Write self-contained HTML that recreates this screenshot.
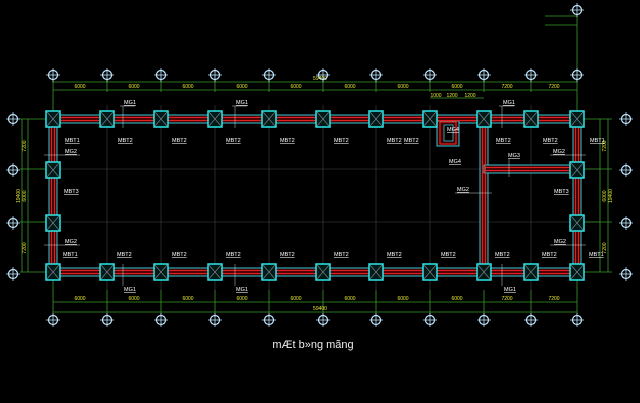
<!DOCTYPE html>
<html><head><meta charset="utf-8"><style>
html,body{margin:0;padding:0;background:#000;width:640px;height:403px;overflow:hidden}
svg{display:block}
text{font-family:"Liberation Sans",sans-serif}
</style></head><body>
<svg width="640" height="403" viewBox="0 0 640 403" xmlns="http://www.w3.org/2000/svg">
<defs>
<g id="bub"><circle r="4.5" fill="none" stroke="#bfe6ff" stroke-width="1.2"/><line x1="-7" y1="0" x2="7" y2="0" stroke="#bfe6ff" stroke-width="0.8"/><line x1="0" y1="-7" x2="0" y2="7" stroke="#bfe6ff" stroke-width="0.8"/></g>
<g id="col"><rect x="-7" y="-8" width="14" height="16" fill="#001a1a" stroke="#2ee8e8" stroke-width="1.5"/><line x1="-6" y1="-7" x2="6" y2="7" stroke="#888" stroke-width="0.6"/><line x1="6" y1="-7" x2="-6" y2="7" stroke="#888" stroke-width="0.6"/></g>
</defs>
<!-- grid lines -->
<g stroke="#444" stroke-width="0.6">
<line x1="40" y1="169" x2="600" y2="169"/><line x1="40" y1="222" x2="600" y2="222"/>
<line x1="107" y1="105" x2="107" y2="290"/><line x1="161" y1="105" x2="161" y2="290"/><line x1="215" y1="105" x2="215" y2="290"/><line x1="269" y1="105" x2="269" y2="290"/><line x1="323" y1="105" x2="323" y2="290"/><line x1="376" y1="105" x2="376" y2="290"/><line x1="430" y1="105" x2="430" y2="290"/><line x1="531" y1="105" x2="531" y2="290"/>
</g>
<!-- dimension lines -->
<g stroke="#3a9a2a" stroke-width="0.8" fill="none">
<line x1="53" y1="82" x2="577" y2="82"/><line x1="53" y1="90" x2="577" y2="90"/>
<line x1="430" y1="98" x2="484" y2="98"/>
<line x1="53" y1="302" x2="577" y2="302"/><line x1="53" y1="312" x2="577" y2="312"/>
<line x1="22" y1="119" x2="22" y2="272"/><line x1="28" y1="119" x2="28" y2="272"/>
<line x1="600" y1="119" x2="600" y2="272"/><line x1="608" y1="119" x2="608" y2="272"/>
<line x1="20" y1="119" x2="50" y2="119"/><line x1="20" y1="272" x2="50" y2="272"/><line x1="20" y1="169" x2="48" y2="169"/><line x1="20" y1="222" x2="48" y2="222"/>
<line x1="582" y1="119" x2="612" y2="119"/><line x1="582" y1="272" x2="612" y2="272"/><line x1="582" y1="169" x2="612" y2="169"/><line x1="582" y1="222" x2="612" y2="222"/>
<line x1="577" y1="14" x2="577" y2="82"/><line x1="545" y1="16" x2="577" y2="16"/><line x1="545" y1="25" x2="577" y2="25"/>
<g>
<line x1="53" y1="80" x2="53" y2="112"/><line x1="107" y1="80" x2="107" y2="92"/><line x1="161" y1="80" x2="161" y2="92"/><line x1="215" y1="80" x2="215" y2="92"/><line x1="269" y1="80" x2="269" y2="92"/><line x1="323" y1="80" x2="323" y2="92"/><line x1="376" y1="80" x2="376" y2="92"/><line x1="430" y1="80" x2="430" y2="92"/><line x1="484" y1="80" x2="484" y2="92"/><line x1="531" y1="80" x2="531" y2="92"/><line x1="577" y1="80" x2="577" y2="112"/>
<line x1="53" y1="280" x2="53" y2="314"/><line x1="107" y1="290" x2="107" y2="314"/><line x1="161" y1="290" x2="161" y2="314"/><line x1="215" y1="290" x2="215" y2="314"/><line x1="269" y1="290" x2="269" y2="314"/><line x1="323" y1="290" x2="323" y2="314"/><line x1="376" y1="290" x2="376" y2="314"/><line x1="430" y1="290" x2="430" y2="314"/><line x1="484" y1="290" x2="484" y2="314"/><line x1="531" y1="290" x2="531" y2="314"/><line x1="577" y1="280" x2="577" y2="314"/>
</g>
</g>
<!-- dim texts -->
<g fill="#e8e830" font-size="5" text-anchor="middle">
<text x="80" y="88">6000</text><text x="134" y="88">6000</text><text x="188" y="88">6000</text><text x="242" y="88">6000</text><text x="296" y="88">6000</text><text x="350" y="88">6000</text><text x="403" y="88">6000</text><text x="457" y="88">6000</text><text x="507" y="88">7200</text><text x="554" y="88">7200</text>
<text x="320" y="80">59400</text>
<text x="436" y="97">1000</text><text x="452" y="97">1200</text><text x="470" y="97">1200</text>
<text x="80" y="300">6000</text><text x="134" y="300">6000</text><text x="188" y="300">6000</text><text x="242" y="300">6000</text><text x="296" y="300">6000</text><text x="350" y="300">6000</text><text x="403" y="300">6000</text><text x="457" y="300">6000</text><text x="507" y="300">7200</text><text x="554" y="300">7200</text>
<text x="320" y="310">59400</text>
<text transform="translate(26,146) rotate(-90)">7200</text><text transform="translate(26,196) rotate(-90)">6000</text><text transform="translate(26,248) rotate(-90)">7200</text><text transform="translate(20,196) rotate(-90)">19400</text>
<text transform="translate(606,146) rotate(-90)">7200</text><text transform="translate(606,196) rotate(-90)">6000</text><text transform="translate(606,248) rotate(-90)">7200</text><text transform="translate(612,196) rotate(-90)">19400</text>
</g>
<!-- beams -->
<g>
<g fill="#3a0000" stroke="#2ec8d8" stroke-width="1">
<rect x="49" y="115" width="532" height="8"/>
<rect x="49" y="268" width="532" height="8"/>
<rect x="49" y="115" width="8" height="161"/>
<rect x="573" y="115" width="8" height="161"/>
<rect x="480" y="115" width="8" height="161"/>
<rect x="484" y="165" width="97" height="8"/>
<rect x="437" y="121" width="22" height="25"/>
</g>
<g stroke="#e02020" stroke-width="1.2" fill="none">
<line x1="50" y1="117.5" x2="580" y2="117.5"/><line x1="50" y1="120.5" x2="580" y2="120.5"/>
<line x1="50" y1="270.5" x2="580" y2="270.5"/><line x1="50" y1="273.5" x2="580" y2="273.5"/>
<line x1="51.5" y1="116" x2="51.5" y2="275"/><line x1="54.5" y1="116" x2="54.5" y2="275"/>
<line x1="575.5" y1="116" x2="575.5" y2="275"/><line x1="578.5" y1="116" x2="578.5" y2="275"/>
<line x1="482.5" y1="116" x2="482.5" y2="275"/><line x1="485.5" y1="116" x2="485.5" y2="275"/>
<line x1="486" y1="167.5" x2="580" y2="167.5"/><line x1="486" y1="170.5" x2="580" y2="170.5"/>
<rect x="440" y="122" width="16" height="22"/>
</g>
<rect x="444" y="125" width="9" height="16" fill="#000" stroke="#2ec8d8" stroke-width="0.8"/>
</g>
<!-- columns -->
<g>
<use href="#col" x="53" y="119"/><use href="#col" x="107" y="119"/><use href="#col" x="161" y="119"/><use href="#col" x="215" y="119"/><use href="#col" x="269" y="119"/><use href="#col" x="323" y="119"/><use href="#col" x="376" y="119"/><use href="#col" x="430" y="119"/><use href="#col" x="484" y="119"/><use href="#col" x="531" y="119"/><use href="#col" x="577" y="119"/>
<use href="#col" x="53" y="272"/><use href="#col" x="107" y="272"/><use href="#col" x="161" y="272"/><use href="#col" x="215" y="272"/><use href="#col" x="269" y="272"/><use href="#col" x="323" y="272"/><use href="#col" x="376" y="272"/><use href="#col" x="430" y="272"/><use href="#col" x="484" y="272"/><use href="#col" x="531" y="272"/><use href="#col" x="577" y="272"/>
<use href="#col" x="53" y="170"/><use href="#col" x="53" y="223"/><use href="#col" x="577" y="170"/><use href="#col" x="577" y="223"/>
</g>
<!-- labels -->
<g fill="#fff" font-size="5.5" text-decoration="underline">
<text x="65" y="142">MBT1</text><text x="118" y="142">MBT2</text><text x="172" y="142">MBT2</text><text x="226" y="142">MBT2</text><text x="280" y="142">MBT2</text><text x="334" y="142">MBT2</text><text x="387" y="142">MBT2</text><text x="404" y="142">MBT2</text><text x="496" y="142">MBT2</text><text x="543" y="142">MBT2</text><text x="590" y="142">MBT1</text>
<text x="63" y="256">MBT1</text><text x="117" y="256">MBT2</text><text x="172" y="256">MBT2</text><text x="226" y="256">MBT2</text><text x="280" y="256">MBT2</text><text x="334" y="256">MBT2</text><text x="387" y="256">MBT2</text><text x="441" y="256">MBT2</text><text x="495" y="256">MBT2</text><text x="542" y="256">MBT2</text><text x="589" y="256">MBT1</text>
<text x="64" y="193">MBT3</text><text x="554" y="193">MBT3</text>
<text x="124" y="104">MG1</text><text x="236" y="104">MG1</text><text x="503" y="104">MG1</text>
<text x="124" y="291">MG1</text><text x="236" y="291">MG1</text><text x="504" y="291">MG1</text>
<text x="65" y="153">MG2</text><text x="65" y="243">MG2</text><text x="553" y="153">MG2</text><text x="554" y="243">MG2</text>
<text x="457" y="191">MG2</text><text x="508" y="157">MG3</text><text x="447" y="131">MG4</text><text x="449" y="163">MG4</text>
</g>
<g stroke="#ccc" stroke-width="0.5">
<line x1="120" y1="106" x2="135" y2="106"/><line x1="123" y1="106" x2="123" y2="128"/>
<line x1="232" y1="106" x2="247" y2="106"/><line x1="235" y1="106" x2="235" y2="128"/>
<line x1="499" y1="106" x2="514" y2="106"/><line x1="502" y1="106" x2="502" y2="128"/>
<line x1="123" y1="264" x2="123" y2="286"/><line x1="235" y1="264" x2="235" y2="286"/><line x1="502" y1="264" x2="502" y2="286"/>
<line x1="44" y1="155" x2="80" y2="155"/><line x1="44" y1="245" x2="80" y2="245"/>
<line x1="550" y1="155" x2="586" y2="155"/><line x1="550" y1="245" x2="586" y2="245"/>
<line x1="455" y1="193" x2="492" y2="193"/>
<line x1="509" y1="159" x2="509" y2="177"/>
</g>
<!-- bubbles -->
<g>
<use href="#bub" x="53" y="75"/><use href="#bub" x="107" y="75"/><use href="#bub" x="161" y="75"/><use href="#bub" x="215" y="75"/><use href="#bub" x="269" y="75"/><use href="#bub" x="323" y="75"/><use href="#bub" x="376" y="75"/><use href="#bub" x="430" y="75"/><use href="#bub" x="484" y="75"/><use href="#bub" x="531" y="75"/><use href="#bub" x="577" y="75"/><use href="#bub" x="577" y="10"/>
<use href="#bub" x="53" y="320"/><use href="#bub" x="107" y="320"/><use href="#bub" x="161" y="320"/><use href="#bub" x="215" y="320"/><use href="#bub" x="269" y="320"/><use href="#bub" x="323" y="320"/><use href="#bub" x="376" y="320"/><use href="#bub" x="430" y="320"/><use href="#bub" x="484" y="320"/><use href="#bub" x="531" y="320"/><use href="#bub" x="577" y="320"/>
<use href="#bub" x="13" y="119"/><use href="#bub" x="13" y="170"/><use href="#bub" x="13" y="223"/><use href="#bub" x="13" y="274"/>
<use href="#bub" x="626" y="119"/><use href="#bub" x="626" y="170"/><use href="#bub" x="626" y="223"/><use href="#bub" x="626" y="274"/>
</g>
<text x="313" y="348" fill="#eee" font-size="11" text-anchor="middle">mÆt b»ng mãng</text>
</svg>
</body></html>
